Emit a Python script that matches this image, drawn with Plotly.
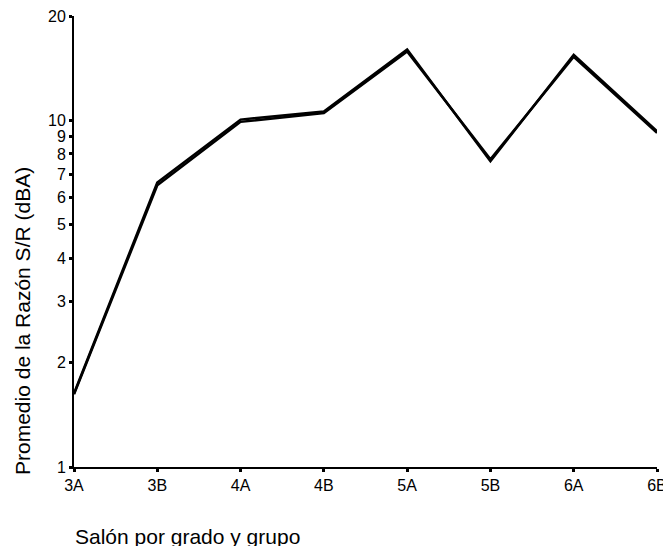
import plotly.graph_objects as go

categories = ["3A", "3B", "4A", "4B", "5A", "5B", "6A", "6B"]
serie_1 = [1.63, 6.62, 10.05, 10.6, 16.0, 7.62, 15.45, 9.3]
serie_2 = [1.62, 6.50, 9.90, 10.5, 15.8, 7.72, 15.25, 9.2]
y_ticks = [1, 2, 3, 4, 5, 6, 7, 8, 9, 10, 20]

fig = go.Figure()
for s in (serie_1, serie_2):
    fig.add_trace(go.Scatter(x=list(range(len(categories))), y=s, mode="lines",
                             line=dict(color="black", width=2.5), showlegend=False))

fig.update_layout(
    width=663, height=546,
    margin=dict(l=74, r=6, t=16, b=79, autoexpand=False),
    paper_bgcolor="white", plot_bgcolor="white",
    font=dict(family="Liberation Sans, Arial", color="black", size=16),
    xaxis=dict(range=[0, 7], tickmode="array", tickvals=list(range(len(categories))),
               ticktext=categories, showgrid=False, zeroline=False,
               showline=True, linecolor="black", linewidth=2,
               ticks="outside", ticklen=3, tickwidth=3, tickcolor="black",
               tickfont=dict(size=16), ticklabeloverflow="allow", automargin=False),
    yaxis=dict(type="log", range=[0, 1.30103], tickmode="array", tickvals=y_ticks,
               ticktext=[str(v) for v in y_ticks], showgrid=False, zeroline=False,
               showline=True, linecolor="black", linewidth=2,
               ticks="outside", ticklen=3, tickwidth=3, tickcolor="black",
               tickfont=dict(size=16), ticklabeloverflow="allow", automargin=False),
    annotations=[
        dict(text="Promedio de la Razón S/R (dBA)", textangle=-90, xref="paper", yref="paper",
             x=0, y=(467 - 321) / 451, xanchor="center", yanchor="middle", xshift=-52,
             showarrow=False, font=dict(size=21)),
        dict(text="Salón por grado y grupo", xref="paper", yref="paper",
             x=0, y=-(536 - 467) / 451, xanchor="left", yanchor="middle", xshift=-1,
             showarrow=False, font=dict(size=21)),
    ],
)

fig.write_html("out.html")
